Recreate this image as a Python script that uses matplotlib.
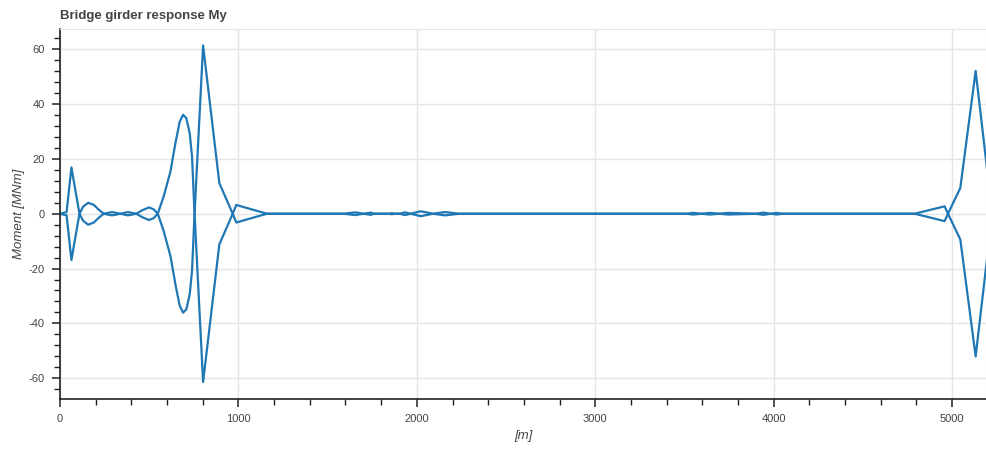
import matplotlib
matplotlib.use("Agg")
import matplotlib.pyplot as plt
from matplotlib.ticker import MultipleLocator

# data (girder moment envelope, two mirrored branches)
x_pos = [0, 37, 64, 109, 130, 158, 190, 215, 245, 292, 339, 380, 428,
         462, 499, 525, 548, 581, 619, 647, 671, 690, 708, 727, 740, 753,
         802, 893, 968, 988, 1160,
         1590, 1655, 1700, 1742, 1760, 1845, 1860, 1875, 1905, 1934, 1965,
         2022, 2090, 2158, 2240,
         3510, 3549, 3595, 3642, 3695, 3745, 3900, 3941, 3985, 4016, 4050,
         4790, 4958, 4977, 5046, 5132, 5225]
m_upper = [0, 0.6, 16.9, 0, -2.6, -4.0, -3.2, -1.6, 0, 0.6, 0, 0.6, 0,
           1.3, 2.3, 1.6, 0, 6.3, 15.4, 25.8, 33.6, 36.1, 34.9, 29.4, 20.9, 1.5,
           -61.4, -11.2, 0, 3.2, 0,
           0, 0.5, 0, 0.4, 0, 0, 0.2, 0, 0, 0.5, 0,
           -0.9, 0, 0.6, 0,
           0, 0.3, 0, 0.3, 0, 0.3, 0, 0.4, 0, 0.3, 0,
           0, 2.7, 0, -9.4, -52.1, 0]
m_lower = [0, -0.6, -16.9, 0, 2.6, 4.0, 3.2, 1.6, 0, -0.6, 0, -0.6, 0,
           -1.3, -2.3, -1.6, 0, -6.3, -15.4, -25.8, -33.6, -36.1, -34.9, -29.4, -20.9, -1.5,
           61.4, 11.2, 0, -3.2, 0,
           0, -0.5, 0, -0.4, 0, 0, -0.2, 0, 0, -0.5, 0,
           0.9, 0, -0.6, 0,
           0, -0.3, 0, -0.3, 0, -0.3, 0, -0.4, 0, -0.3, 0,
           0, -2.7, 0, 9.4, 52.1, 0]

title = "Bridge girder response My"
x_label = "[m]"
y_label = "Moment [MNm]"

line_col = "#1f77b4"
text_col = "#444444"
grid_col = "#e5e5e5"

plt.rcParams["font.family"] = ["Liberation Sans", "DejaVu Sans"]
plt.rcParams["axes.unicode_minus"] = False

fig = plt.figure(figsize=(9.86, 4.53), dpi=100)
ax = fig.add_axes([60 / 986, 1 - 399 / 453, 926 / 986, 370 / 453])

ax.plot(x_pos, m_upper, color=line_col, lw=1.6)
ax.plot(x_pos, m_lower, color=line_col, lw=1.6)

ax.set_xlim(0, 5190)
ax.set_ylim(-67.6, 67.4)

ax.xaxis.set_major_locator(MultipleLocator(1000))
ax.xaxis.set_minor_locator(MultipleLocator(200))
ax.yaxis.set_major_locator(MultipleLocator(20))
ax.yaxis.set_minor_locator(MultipleLocator(4))

ax.grid(True, which="major", color=grid_col, lw=1)
ax.set_axisbelow(True)

for side in ["top", "right"]:
    ax.spines[side].set_color(grid_col)
for side in ["left", "bottom"]:
    ax.spines[side].set_color("#222222")
    ax.spines[side].set_linewidth(1.2)

ax.tick_params(which="major", direction="out", length=6, width=1.1,
               color="#222222", labelsize=8, labelcolor=text_col, pad=5)
ax.tick_params(which="minor", direction="out", length=4, width=1,
               color="#222222")

ax.set_xlabel(x_label, fontsize=9.5, style="italic", color=text_col)
ax.xaxis.set_label_coords(0.5, -0.085)
ax.set_ylabel(y_label, fontsize=9.5, style="italic", color=text_col)
ax.yaxis.set_label_coords(-0.038, 0.5)

fig.text(60 / 986, 1 - 16 / 453, title, fontsize=9.5, fontweight="bold",
         color=text_col, ha="left", va="center")

fig.savefig("out.png", dpi=100)
